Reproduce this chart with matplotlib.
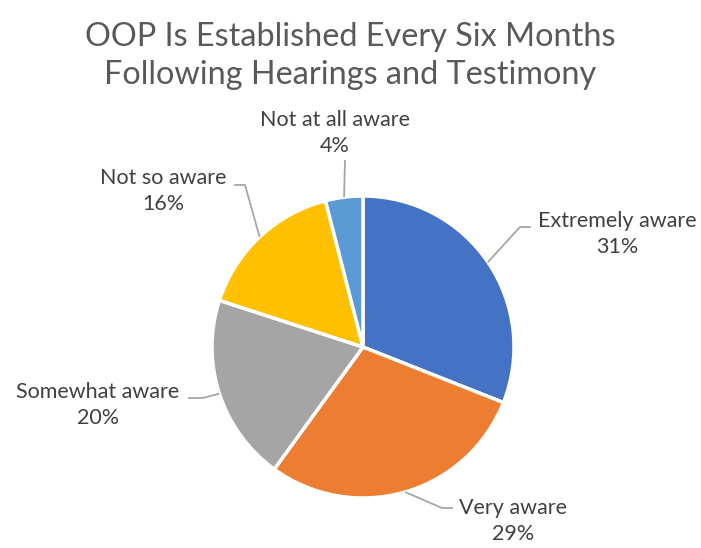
import matplotlib
matplotlib.use("Agg")
import matplotlib.pyplot as plt
import numpy as np

plt.rcParams['font.family'] = ['Lato', 'DejaVu Sans']

# awareness shares, clockwise from 12 o'clock
labels = ["Extremely aware", "Very aware", "Somewhat aware", "Not so aware", "Not at all aware"]
values = [31, 29, 20, 16, 4]
colors = ["#4472C4", "#ED7D31", "#A5A5A5", "#FFC000", "#5B9BD5"]

# label text centre and leader elbow, in pixel coordinates
text_pos = [(617, 234), (513, 521), (98, 405), (163, 191), (335, 133)]
elbows = [(520, 227), (442, 508), (203, 398), (245, 185), (345, 160)]
line_ends = [(531, 227), (453, 508), (188, 398), (234, 185), (345, 160)]

W, H = 701, 548
cx, cy, r = 363, 347, 151

fig = plt.figure(figsize=(W / 100, H / 100), dpi=100)
ax = fig.add_axes([0, 0, 1, 1])
ax.set_xlim(0, W)
ax.set_ylim(0, H)
ax.axis("off")

wedges, _ = ax.pie(values, colors=colors, startangle=90, counterclock=False,
                   center=(cx, H - cy), radius=r,
                   wedgeprops=dict(edgecolor="white", linewidth=2.5))
ax.set_xlim(0, W)
ax.set_ylim(0, H)
ax.set_aspect("equal")

for w, lab, v, tp, el, le in zip(wedges, labels, values, text_pos, elbows, line_ends):
    mid = np.deg2rad((w.theta1 + w.theta2) / 2)
    px = cx + r * np.cos(mid)
    py = (H - cy) + r * np.sin(mid)
    ax.plot([px, el[0], le[0]], [py, H - el[1], H - le[1]],
            color="#A6A6A6", lw=1.3, solid_capstyle="butt")
    ax.text(tp[0], H - tp[1], f"{lab}\n{v}%", ha="center", va="center",
            fontsize=15.5, color="#404040", linespacing=1.42)

fig.text(0.5, 1 - 37 / H, "OOP Is Established Every Six Months",
         ha="center", va="center", fontsize=23.3, color="#595959")
fig.text(0.5, 1 - 75 / H, "Following Hearings and Testimony",
         ha="center", va="center", fontsize=23.3, color="#595959")

fig.savefig("out.png", dpi=100, facecolor="white")
